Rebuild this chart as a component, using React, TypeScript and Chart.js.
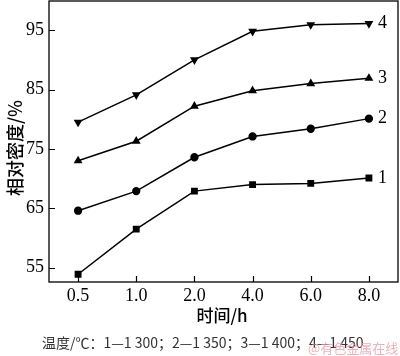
import React, { useEffect, useRef } from "react";
import { Chart, registerables } from "chart.js";

Chart.register(...registerables);

const categories = ["0.5", "1.0", "2.0", "4.0", "6.0", "8.0"];
const series1 = [53.9, 61.5, 67.9, 69.0, 69.2, 70.1];
const series2 = [64.6, 67.9, 73.6, 77.1, 78.4, 80.1];
const series3 = [73.0, 76.3, 82.2, 84.8, 86.0, 86.9];
const series4 = [79.5, 84.1, 90.0, 94.8, 95.9, 96.1];
const seriesNames = ["1", "2", "3", "4"];
const yTicks = [55, 65, 75, 85, 95];
const xTitle = "时间/h";
const yTitle = "相对密度/%";
const note = "温度/℃：1—1 300；2—1 350；3—1 400；4—1 450";
const watermark = "@有色金属在线";

const SERIF = '"Liberation Serif", "Times New Roman", serif';
const CJK = '"Noto Sans CJK SC", "Liberation Serif", serif';

const decorPlugin = {
  id: "decor",
  afterDraw(chart: any) {
    const ctx = chart.ctx;
    const a = chart.chartArea;
    const xs = chart.scales.x;
    const ys = chart.scales.y;
    ctx.save();
    ctx.strokeStyle = "#000";
    ctx.lineWidth = 1.3;
    ctx.strokeRect(a.left, a.top, a.right - a.left, a.bottom - a.top);
    // inward ticks
    ctx.beginPath();
    ys.ticks.forEach((t: any, i: number) => {
      const y = Math.round(ys.getPixelForTick(i)) + 0.5;
      ctx.moveTo(a.left, y);
      ctx.lineTo(a.left + 6, y);
    });
    xs.ticks.forEach((t: any, i: number) => {
      const x = Math.round(xs.getPixelForTick(i)) + 0.5;
      ctx.moveTo(x, a.bottom);
      ctx.lineTo(x, a.bottom - 6);
    });
    ctx.lineWidth = 1.2;
    ctx.stroke();
    // series labels
    ctx.fillStyle = "#000";
    ctx.font = "18px " + SERIF;
    ctx.textAlign = "left";
    ctx.textBaseline = "middle";
    chart.data.datasets.forEach((ds: any, i: number) => {
      const meta = chart.getDatasetMeta(i);
      const pt = meta.data[meta.data.length - 1];
      ctx.fillText(seriesNames[i], pt.x + 9, pt.y);
    });
    // axis titles
    ctx.font = "500 17px " + CJK;
    ctx.textAlign = "center";
    ctx.fillText(xTitle, 222, 316);
    ctx.save();
    ctx.translate(15, 148);
    ctx.rotate(-Math.PI / 2);
    ctx.font = "500 18px " + CJK;
    ctx.fillText(yTitle, 0, 0);
    ctx.restore();
    // note
    ctx.font = "14px " + CJK;
    ctx.fillStyle = "#333";
    ctx.textAlign = "left";
    ctx.fillText(note, 42, 343);
    ctx.font = "13px " + CJK;
    ctx.fillStyle = "rgba(235,150,160,0.75)";
    ctx.fillText(watermark, 308, 348);
    ctx.restore();
  },
};

export default function App() {
  const ref = useRef<HTMLCanvasElement>(null);
  useEffect(() => {
    document.body.style.margin = "0";
    const common = {
      borderColor: "#000",
      backgroundColor: "#000",
      pointBackgroundColor: "#000",
      pointBorderColor: "#000",
      borderWidth: 1.5,
      fill: false,
      tension: 0,
    };
    const chart = new Chart(ref.current!, {
      type: "line",
      data: {
        labels: categories,
        datasets: [
          { ...common, label: seriesNames[0], data: series1, pointStyle: "rect", pointRadius: 3.8 },
          { ...common, label: seriesNames[1], data: series2, pointStyle: "circle", pointRadius: 3.4 },
          { ...common, label: seriesNames[2], data: series3, pointStyle: "triangle", pointRadius: 3.6 },
          { ...common, label: seriesNames[3], data: series4, pointStyle: "triangle", pointRadius: 3.6, pointRotation: 180 },
        ],
      },
      options: {
        responsive: false,
        animation: false,
        layout: { autoPadding: false, padding: { top: 1, right: 2, left: 0, bottom: 0 } },
        plugins: { legend: { display: false }, tooltip: { enabled: false } },
        scales: {
          x: {
            type: "category",
            offset: true,
            grid: { display: false, drawTicks: false },
            border: { display: false },
            ticks: { color: "#000", font: { family: SERIF, size: 18 }, padding: 3, maxRotation: 0 },
            afterFit: (s: any) => {
              s.height = 74;
              s.paddingLeft = 0;
              s.paddingRight = 0;
            },
          },
          y: {
            min: 52.6,
            max: 99.9,
            grid: { display: false, drawTicks: false },
            border: { display: false },
            ticks: { color: "#000", font: { family: SERIF, size: 18 }, padding: 5 },
            afterBuildTicks: (s: any) => { s.ticks = yTicks.map((v) => ({ value: v })); },
            afterFit: (s: any) => {
              s.width = 49;
              s.paddingTop = 0;
              s.paddingBottom = 0;
            },
          },
        },
      },
      plugins: [decorPlugin],
    } as any);
    return () => chart.destroy();
  }, []);
  return <canvas ref={ref} width={400} height={356} style={{ display: "block", width: 400, height: 356 }} />;
}
